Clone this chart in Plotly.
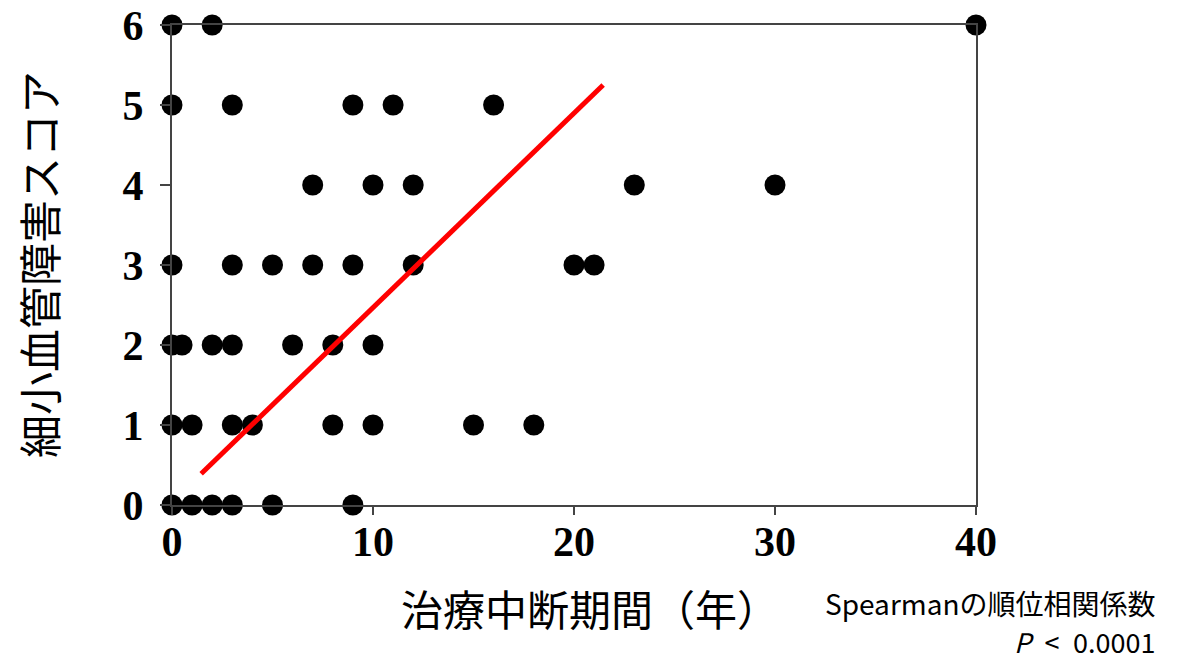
import plotly.graph_objects as go

# Data: (interruption years, microvascular score)
score_6_x = [0, 2, 40]
score_5_x = [0, 3, 9, 11, 16]
score_4_x = [7, 10, 12, 23, 30]
score_3_x = [0, 3, 5, 7, 9, 12, 20, 21]
score_2_x = [0, 0.5, 2, 3, 6, 8, 10]
score_1_x = [0, 1, 3, 4, 8, 10, 15, 18]
score_0_x = [0, 1, 2, 3, 5, 9]

groups = [(6, score_6_x), (5, score_5_x), (4, score_4_x), (3, score_3_x),
          (2, score_2_x), (1, score_1_x), (0, score_0_x)]
xs, ys = [], []
for s, vals in groups:
    xs += vals
    ys += [s] * len(vals)

trend_x = [1.45, 21.45]
trend_y = [0.39, 5.25]

x_ticks = [0, 10, 20, 30, 40]
y_ticks = [0, 1, 2, 3, 4, 5, 6]

fig = go.Figure()
fig.add_trace(go.Scatter(x=xs, y=ys, mode="markers",
                         marker=dict(size=21, color="black", line=dict(width=0)),
                         cliponaxis=False, showlegend=False))
fig.add_trace(go.Scatter(x=trend_x, y=trend_y, mode="lines",
                         line=dict(color="#ff0000", width=5),
                         cliponaxis=False, showlegend=False))

tickfont = dict(family="Liberation Serif", size=42, color="black", weight="bold")
fig.update_layout(
    width=1184, height=661,
    margin=dict(l=172, r=208, t=25, b=156, pad=0),
    paper_bgcolor="white", plot_bgcolor="white",
    xaxis=dict(range=[0, 40], tickvals=x_ticks, ticktext=[str(v) for v in x_ticks],
               showgrid=False, zeroline=False, showline=True, mirror=True,
               linecolor="#444", linewidth=2, ticks="outside", ticklen=8,
               tickwidth=2, tickcolor="#444", tickfont=tickfont,
               ticklabelstandoff=-9, automargin=False),
    yaxis=dict(range=[0, 6], tickvals=y_ticks, ticktext=[str(v) for v in y_ticks],
               showgrid=False, zeroline=False, showline=True, mirror=True,
               linecolor="#444", linewidth=2, ticks="outside", ticklen=10,
               tickwidth=2, tickcolor="#444", tickfont=tickfont,
               ticklabelstandoff=8, automargin=False),
)

cjk = "Noto Sans CJK JP"
fig.add_annotation(text="細小血管障害スコア", xref="paper", yref="paper",
                   x=(38 - 172) / 804, y=0.5, textangle=-90,
                   showarrow=False, font=dict(family=cjk, size=43, color="black"),
                   xanchor="center", yanchor="middle")
fig.add_annotation(text="治療中断期間（年）", xref="paper", yref="paper",
                   x=(590 - 172) / 804, y=-(607 - 505) / 480,
                   showarrow=False, font=dict(family=cjk, size=42, color="black"),
                   xanchor="center", yanchor="middle")
fig.add_annotation(text="Spearmanの順位相関係数", xref="paper", yref="paper",
                   x=(1157 - 172) / 804, y=-(603 - 505) / 480,
                   showarrow=False, borderpad=0,
                   font=dict(family=cjk, size=28, color="black"),
                   xanchor="right", yanchor="middle")
fig.add_annotation(text="<i>P</i>\u2002&lt;\u20020.0001", xref="paper", yref="paper",
                   x=(1157 - 172) / 804, y=-(641 - 505) / 480,
                   showarrow=False, borderpad=0,
                   font=dict(family=cjk, size=27, color="black"),
                   xanchor="right", yanchor="middle")

fig.write_html("out.html")
